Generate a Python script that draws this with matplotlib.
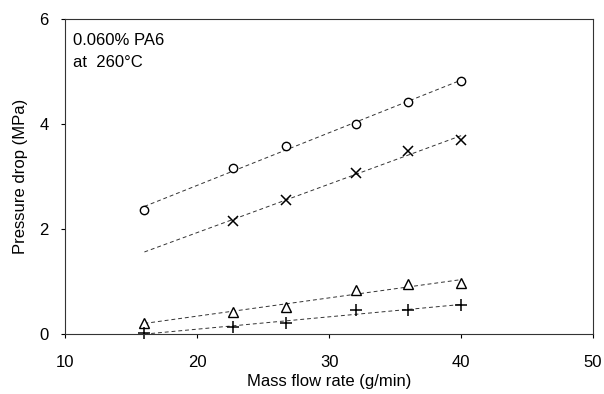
import numpy as np
import matplotlib
matplotlib.use("Agg")
import matplotlib.pyplot as plt

plt.rcParams['font.family'] = ['Liberation Sans', 'DejaVu Sans']

# mass flow rate (g/min)
flow = [16.0, 22.7, 26.7, 32.0, 36.0, 40.0]
flow_x = [22.7, 26.7, 32.0, 36.0, 40.0]

# pressure drop (MPa)
p_circle = [2.36, 3.16, 3.58, 4.00, 4.42, 4.82]
p_cross = [2.15, 2.55, 3.07, 3.49, 3.70]
p_triangle = [0.21, 0.42, 0.52, 0.84, 0.95, 0.97]
p_plus = [0.02, 0.13, 0.21, 0.45, 0.46, 0.55]

fig, ax = plt.subplots(figsize=(6.04, 3.94), dpi=100)
fig.subplots_adjust(left=0.108, right=0.982, top=0.952, bottom=0.152)

line_x = np.array([16, 40])
series = [(flow, p_circle, 'o', 6), (flow_x, p_cross, 'x', 7.5),
          (flow, p_triangle, '^', 7), (flow, p_plus, '+', 9)]
for xs, ys, m, ms in series:
    k, b = np.polyfit(xs, ys, 1)
    ax.plot(line_x, k * line_x + b, '--', color='#333333', lw=0.7, dashes=(4, 3))
    if m in ('x', '+'):
        ax.plot(xs, ys, m, color='black', ms=ms, mew=1.1, ls='none', clip_on=False)
    else:
        ax.plot(xs, ys, m, color='black', ms=ms, mfc='white', mew=1.0, ls='none', clip_on=False)

ax.set_xlim(10, 50)
ax.set_ylim(0, 6)
ax.set_xticks([10, 20, 30, 40, 50])
ax.set_yticks([0, 2, 4, 6])
ax.tick_params(direction='out', length=3, width=0.8, labelsize=12)
ax.tick_params(axis='x', pad=12)
ax.tick_params(axis='y', pad=9)
for s in ax.spines.values():
    s.set_linewidth(0.8)
    s.set_color('#333333')

ax.set_xlabel('Mass flow rate (g/min)', fontsize=12, labelpad=3)
ax.set_ylabel('Pressure drop (MPa)', fontsize=12, labelpad=8)
ax.text(0.015, 0.955, '0.060% PA6\nat  260\u00b0C', transform=ax.transAxes,
        fontsize=12, va='top', ha='left', linespacing=1.6)

fig.savefig('out.png', dpi=100)
